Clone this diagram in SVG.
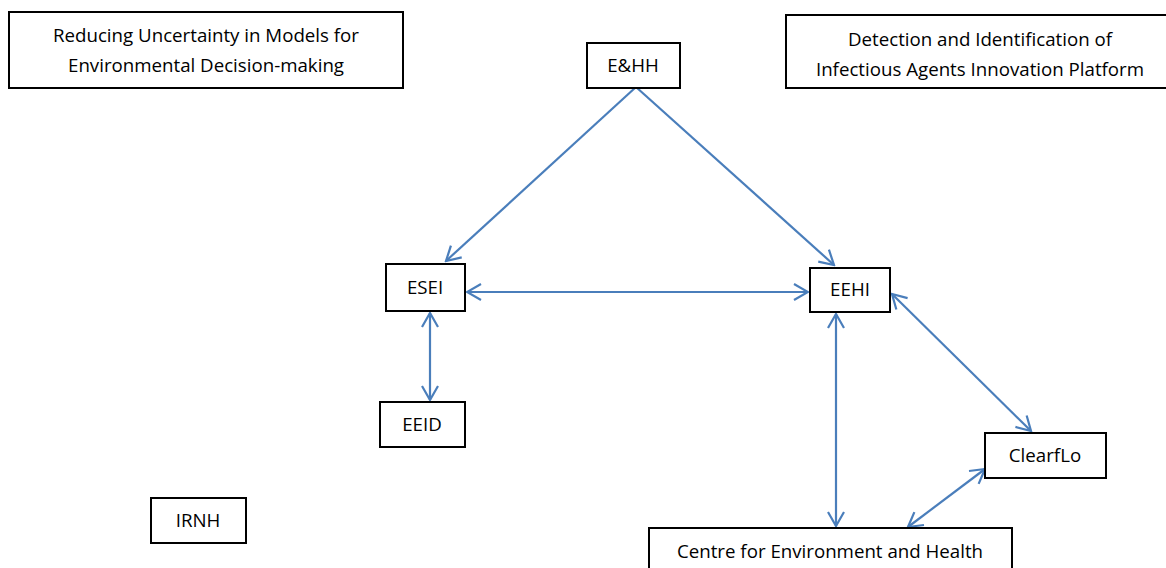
<svg xmlns="http://www.w3.org/2000/svg" width="1166" height="568" viewBox="0 0 1166 568">
<style>
.box{fill:#fff;stroke:#000;stroke-width:2}
.t{font-family:"Open Sans","Liberation Sans",Arial,sans-serif;font-size:18.7px;fill:#000;text-anchor:middle}
.c{stroke:#4a7ebb;stroke-width:2.2;fill:none}
</style>
<defs>
<marker id="ah" viewBox="0 0 20 20" refX="18" refY="10" markerWidth="20" markerHeight="20" markerUnits="userSpaceOnUse" orient="auto-start-reverse">
<path d="M4,2 L18,10 L4,18" fill="none" stroke="#4a7ebb" stroke-width="2.2"/>
</marker>
</defs>
<rect width="1166" height="568" fill="#fff"/>
<g id="connectors">
<line class="c" x1="636" y1="87" x2="446" y2="261" marker-end="url(#ah)"/>
<line class="c" x1="636" y1="87" x2="834" y2="265" marker-end="url(#ah)"/>
<line class="c" x1="467" y1="292" x2="808" y2="292" marker-start="url(#ah)" marker-end="url(#ah)"/>
<line class="c" x1="430" y1="313" x2="430" y2="400" marker-start="url(#ah)" marker-end="url(#ah)"/>
<line class="c" x1="836" y1="314" x2="836" y2="526" marker-start="url(#ah)" marker-end="url(#ah)"/>
<line class="c" x1="892" y1="294" x2="1031" y2="431" marker-start="url(#ah)" marker-end="url(#ah)"/>
<line class="c" x1="908" y1="527" x2="985" y2="469" marker-start="url(#ah)" marker-end="url(#ah)"/>
</g>
<g id="n-rum">
<rect class="box" x="9" y="12" width="394" height="76"/>
<text class="t" x="206" y="42">Reducing Uncertainty in Models for</text>
<text class="t" x="206" y="72">Environmental Decision-making</text>
</g>
<g id="n-diia">
<rect class="box" x="786" y="15" width="390" height="73"/>
<text class="t" x="980" y="46">Detection and Identification of</text>
<text class="t" x="980" y="76">Infectious Agents Innovation Platform</text>
</g>
<g id="n-ehh">
<rect class="box" x="587" y="43" width="93" height="45"/>
<text class="t" x="633" y="72">E&amp;HH</text>
</g>
<g id="n-esei">
<rect class="box" x="386" y="264" width="79" height="47"/>
<text class="t" x="425" y="294">ESEI</text>
</g>
<g id="n-eehi">
<rect class="box" x="810" y="268" width="80" height="44"/>
<text class="t" x="850" y="296">EEHI</text>
</g>
<g id="n-eeid">
<rect class="box" x="380" y="402" width="85" height="45"/>
<text class="t" x="422" y="431">EEID</text>
</g>
<g id="n-clearflo">
<rect class="box" x="985" y="433" width="121" height="45"/>
<text class="t" x="1045" y="462">ClearfLo</text>
</g>
<g id="n-irnh">
<rect class="box" x="151" y="498" width="95" height="45"/>
<text class="t" x="198" y="527">IRNH</text>
</g>
<g id="n-ceh">
<rect class="box" x="649" y="528" width="363" height="50"/>
<text class="t" x="830" y="558">Centre for Environment and Health</text>
</g>
</svg>
